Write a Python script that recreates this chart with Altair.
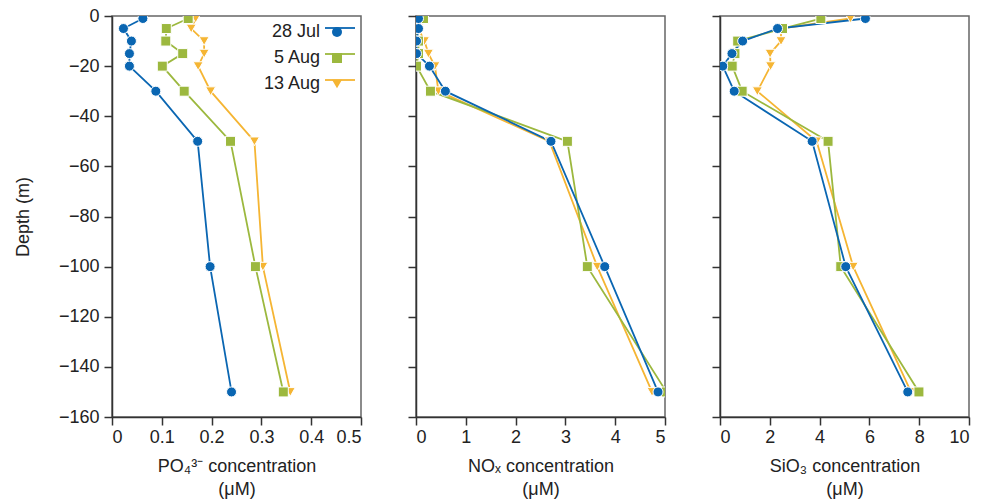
import altair as alt
import pandas as pd

# ---------------- data ----------------
depths = [-1, -5, -10, -15, -20, -30, -50, -100, -150]
dates = ["28 Jul", "5 Aug", "13 Aug"]
draw_order = ["13 Aug", "5 Aug", "28 Jul"]

po4_28jul = [0.062, 0.023, 0.039, 0.035, 0.035, 0.088, 0.172, 0.197, 0.240]
po4_5aug = [0.153, 0.109, 0.108, 0.142, 0.101, 0.145, 0.238, 0.288, 0.344]
po4_13aug = [0.168, 0.159, 0.185, 0.185, 0.173, 0.198, 0.286, 0.303, 0.358]

nox_28jul = [0.05, 0.05, 0.01, 0.01, 0.27, 0.59, 2.71, 3.79, 4.86]
nox_5aug = [0.15, 0.00, 0.05, 0.05, 0.01, 0.29, 3.04, 3.44, 5.03]
nox_13aug = [0.02, 0.05, 0.17, 0.25, 0.38, 0.45, 2.68, 3.64, 4.74]

si_28jul = [5.84, 2.31, 0.91, 0.48, 0.11, 0.57, 3.70, 5.05, 7.54]
si_5aug = [4.05, 2.51, 0.71, 0.60, 0.49, 0.89, 4.34, 4.85, 7.99]
si_13aug = [5.24, 2.45, 2.45, 2.01, 2.03, 1.50, 3.88, 5.35, 7.67]

colors = ["#0a66b2", "#9cb83e", "#f5b533"]
shapes = ["circle", "square", "triangle-down"]

po4_ticks = [0, 0.1, 0.2, 0.3, 0.4, 0.5]
nox_ticks = [0, 1, 2, 3, 4, 5]
si_ticks = [0, 2, 4, 6, 8, 10]
depth_ticks = [0, -20, -40, -60, -80, -100, -120, -140, -160]

FONT = "Liberation Sans"
LINE_PREFIX = "line "


def make_df(series):
    rows = []
    for d in draw_order:
        for i, (dep, v) in enumerate(zip(depths, series[d])):
            rows.append({"date": d, "line_key": LINE_PREFIX + d,
                         "depth": dep, "value": v, "idx": i})
    return pd.DataFrame(rows)


po4_df = make_df({"28 Jul": po4_28jul, "5 Aug": po4_5aug, "13 Aug": po4_13aug})
nox_df = make_df({"28 Jul": nox_28jul, "5 Aug": nox_5aug, "13 Aug": nox_13aug})
si_df = make_df({"28 Jul": si_28jul, "5 Aug": si_5aug, "13 Aug": si_13aug})

line_scale = alt.Scale(domain=[LINE_PREFIX + d for d in dates], range=colors)
color_scale = alt.Scale(domain=dates, range=colors)
shape_scale = alt.Scale(domain=dates, range=shapes)

LX, LY = 216, 7

line_legend = alt.Legend(
    orient="none", legendX=LX - 4, legendY=LY, title=None,
    symbolType="stroke", symbolSize=900, symbolStrokeWidth=1.8,
    labelExpr="''", labelFontSize=18, labelFont=FONT,
    clipHeight=10, rowPadding=8,
)
shape_legend = alt.Legend(
    orient="none", legendX=LX, legendY=LY, title=None,
    symbolSize=100, symbolStrokeColor="white", symbolStrokeWidth=1,
    symbolOpacity=1, labelAlign="right", labelOffset={"expr": "-26"},
    labelFontSize=18, labelFont=FONT, labelColor="#222",
    rowPadding=8,
)


def panel(df, xdomain, xticks, xfmt, xtitle, first):
    x = alt.X(
        "value:Q",
        scale=alt.Scale(domain=xdomain, nice=False, zero=False),
        axis=alt.Axis(values=xticks, labelExpr=xfmt, title=xtitle),
    )
    y = alt.Y(
        "depth:Q",
        scale=alt.Scale(domain=[-160, 0], nice=False),
        axis=alt.Axis(
            values=depth_ticks, format="d",
            title="Depth (m)" if first else None, labels=first,
        ),
    )
    line = alt.Chart(df).mark_line(strokeWidth=1.8, clip=True).encode(
        x=x, y=y,
        stroke=alt.Stroke("line_key:N", scale=line_scale,
                          legend=line_legend if first else None),
        order=alt.Order("idx:Q"),
    )
    pts = alt.Chart(df).mark_point(
        filled=True, size=100, stroke="white", strokeWidth=1, opacity=1, clip=True
    ).encode(
        x=x, y=y,
        fill=alt.Fill("date:N", scale=color_scale,
                      legend=shape_legend if first else None),
        shape=alt.Shape("date:N", scale=shape_scale,
                        legend=shape_legend if first else None),
    )
    return alt.layer(line, pts).properties(width=249, height=401)


fmt1 = "datum.value == 0 ? '0' : format(datum.value, '.1f')"
fmt0 = "format(datum.value, 'd')"

p1 = panel(po4_df, [0, 0.5], po4_ticks, fmt1, ["PO₄³⁻ concentration", "(μM)"], True)
p2 = panel(nox_df, [0, 5], nox_ticks, fmt0, ["NOₓ concentration", "(μM)"], False)
p3 = panel(si_df, [0, 10], si_ticks, fmt0, ["SiO₃ concentration", "(μM)"], False)

chart = (
    alt.hconcat(p1, p2, p3, spacing=55, bounds="flush")
    .resolve_scale(x="independent", stroke="independent", fill="independent", shape="independent")
    .resolve_legend(stroke="independent", fill="independent", shape="independent")
    .properties(padding={"left": 5, "top": -2, "right": 0, "bottom": 0})
    .configure(font=FONT)
    .configure_view(stroke="#666", strokeWidth=1.5)
    .configure_axis(
        labelFont=FONT, titleFont=FONT, labelFontSize=18, titleFontSize=18,
        labelColor="#222", titleColor="#222", titleFontWeight="normal",
        domainColor="#333", domainWidth=1.5, tickColor="#333", tickWidth=1.5,
        tickSize=8, grid=False, labelPadding=5,
    )
    .configure_axisX(titlePadding=11, titleLineHeight=23, labelPadding=3)
    .configure_axisY(titlePadding=26)
)

chart.save("out.html", embed_options={"renderer": "svg", "actions": False})
